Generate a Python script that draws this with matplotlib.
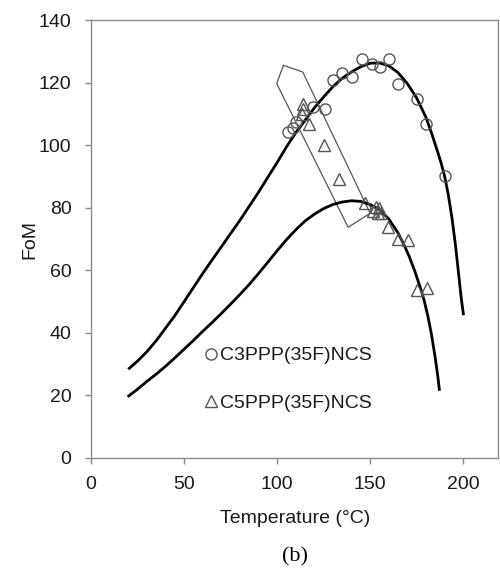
import matplotlib
matplotlib.use("Agg")
import matplotlib.pyplot as plt

# --- data ---
c3_T = [106.0, 108.3, 110.2, 119.5, 125.8, 130.3, 135.1, 140.2, 145.5, 150.9, 155.4, 160.4, 165.2, 175.1, 179.9, 190.3]
c3_F = [104.3, 105.6, 107.5, 112.3, 111.8, 120.8, 123.1, 121.8, 127.7, 126.1, 125.1, 127.7, 119.7, 114.7, 106.7, 90.2]

c5_T = [113.8, 114.2, 113.3, 117.4, 125.2, 133.3, 147.3, 151.5, 153.0, 154.0, 155.0, 155.8, 159.8, 165.2, 170.6, 175.1, 180.5]
c5_F = [113.4, 111.8, 110.2, 107.0, 100.0, 89.4, 81.7, 79.0, 80.3, 78.5, 80.0, 78.4, 73.9, 70.2, 69.7, 53.7, 54.5]

fit3_T = [20, 25, 30, 35, 40, 45, 50, 55, 60, 65, 70, 75, 80, 85, 90, 95, 100, 105, 110, 115,
          120, 125, 130, 135, 140, 145, 150, 155, 160, 165, 170, 175, 180, 183, 186, 188, 190,
          192, 194, 196, 198, 199, 200.2]
fit3_F = [28.4, 31.0, 34.0, 37.5, 41.5, 45.5, 50.0, 54.5, 59.0, 63.3, 67.5, 71.8, 76.0, 80.5,
          85.0, 89.8, 94.5, 99.5, 104.0, 108.0, 112.0, 115.5, 118.8, 121.5, 123.5, 125.2, 126.3,
          126.4, 125.5, 123.3, 119.8, 115.2, 109.0, 104.0, 98.5, 94.7, 90.3, 84.3, 76.8, 67.5,
          56.5, 51.0, 45.7]

fit5_T = [19.7, 25, 30, 35, 40, 45, 50, 55, 60, 65, 70, 75, 80, 85, 90, 95, 100, 105, 110, 115,
          120, 125, 130, 135, 140, 145, 150, 155, 160, 165, 168, 171, 174, 177, 179, 181, 183,
          185, 186.3, 187.3]
fit5_F = [19.6, 22.0, 24.5, 26.8, 29.3, 32.0, 34.8, 37.6, 40.5, 43.3, 46.2, 49.2, 52.3, 55.5,
          59.0, 62.6, 66.3, 69.8, 73.0, 75.8, 78.0, 79.8, 81.1, 81.9, 82.3, 82.1, 81.1, 79.5,
          76.5, 72.0, 68.5, 64.5, 59.8, 54.5, 50.5, 45.5, 39.5, 32.0, 26.5, 21.5]

box_T = [103.4, 113.8, 150.0, 138.2, 99.8, 103.4]
box_F = [125.6, 123.5, 78.3, 73.8, 119.8, 125.6]

x_ticks = [0, 50, 100, 150, 200]
y_ticks = [0, 20, 40, 60, 80, 100, 120, 140]
labels = ["C3PPP(35F)NCS", "C5PPP(35F)NCS"]

plt.rcParams['font.family'] = ['Liberation Sans', 'DejaVu Sans']

fig = plt.figure(figsize=(5.0, 5.75), dpi=100)
ax = fig.add_axes([0.182, 0.2035, 0.815, 0.761])

ax.plot(box_T, box_F, color='#555555', lw=0.9, zorder=2)
ax.plot(fit3_T, fit3_F, color='black', lw=2.0, solid_capstyle='butt', solid_joinstyle='round', zorder=3)
ax.plot(fit5_T, fit5_F, color='black', lw=2.0, solid_capstyle='butt', solid_joinstyle='round', zorder=3)
ax.plot(c3_T, c3_F, linestyle='none', marker='o', ms=8, mfc='none', mec='#555555', mew=1.0,
        label=labels[0], zorder=4)
ax.plot(c5_T, c5_F, linestyle='none', marker='^', ms=8, mfc='none', mec='#555555', mew=1.0,
        label=labels[1], zorder=4)

ax.set_xlim(0, 219)
ax.set_ylim(0, 140)
ax.set_xticks(x_ticks)
ax.set_yticks(y_ticks)
for s in ax.spines.values():
    s.set_color('#8c8c8c')
    s.set_linewidth(1.0)
ax.tick_params(direction='out', length=4, width=1, color='#8c8c8c', labelsize=14,
               labelcolor='#1a1a1a')
ax.tick_params(axis='y', pad=10)
ax.tick_params(axis='x', pad=9)
ax.set_xlabel('Temperature (°C)', fontsize=14, color='#1a1a1a', labelpad=12)
ax.set_ylabel('FoM', fontsize=14, color='#1a1a1a', labelpad=0)

leg = ax.legend(loc='upper left', bbox_to_anchor=(0.26, 0.272), frameon=False, fontsize=14,
                handlelength=0.6, handletextpad=0.2, labelspacing=1.55, borderaxespad=0,
                markerscale=1.0)
for t in leg.get_texts():
    t.set_color('#1a1a1a')

fig.text(0.59, 0.031, '(b)', fontsize=16, family='Liberation Serif', ha='center', va='center')

fig.savefig('out.png', dpi=100)
